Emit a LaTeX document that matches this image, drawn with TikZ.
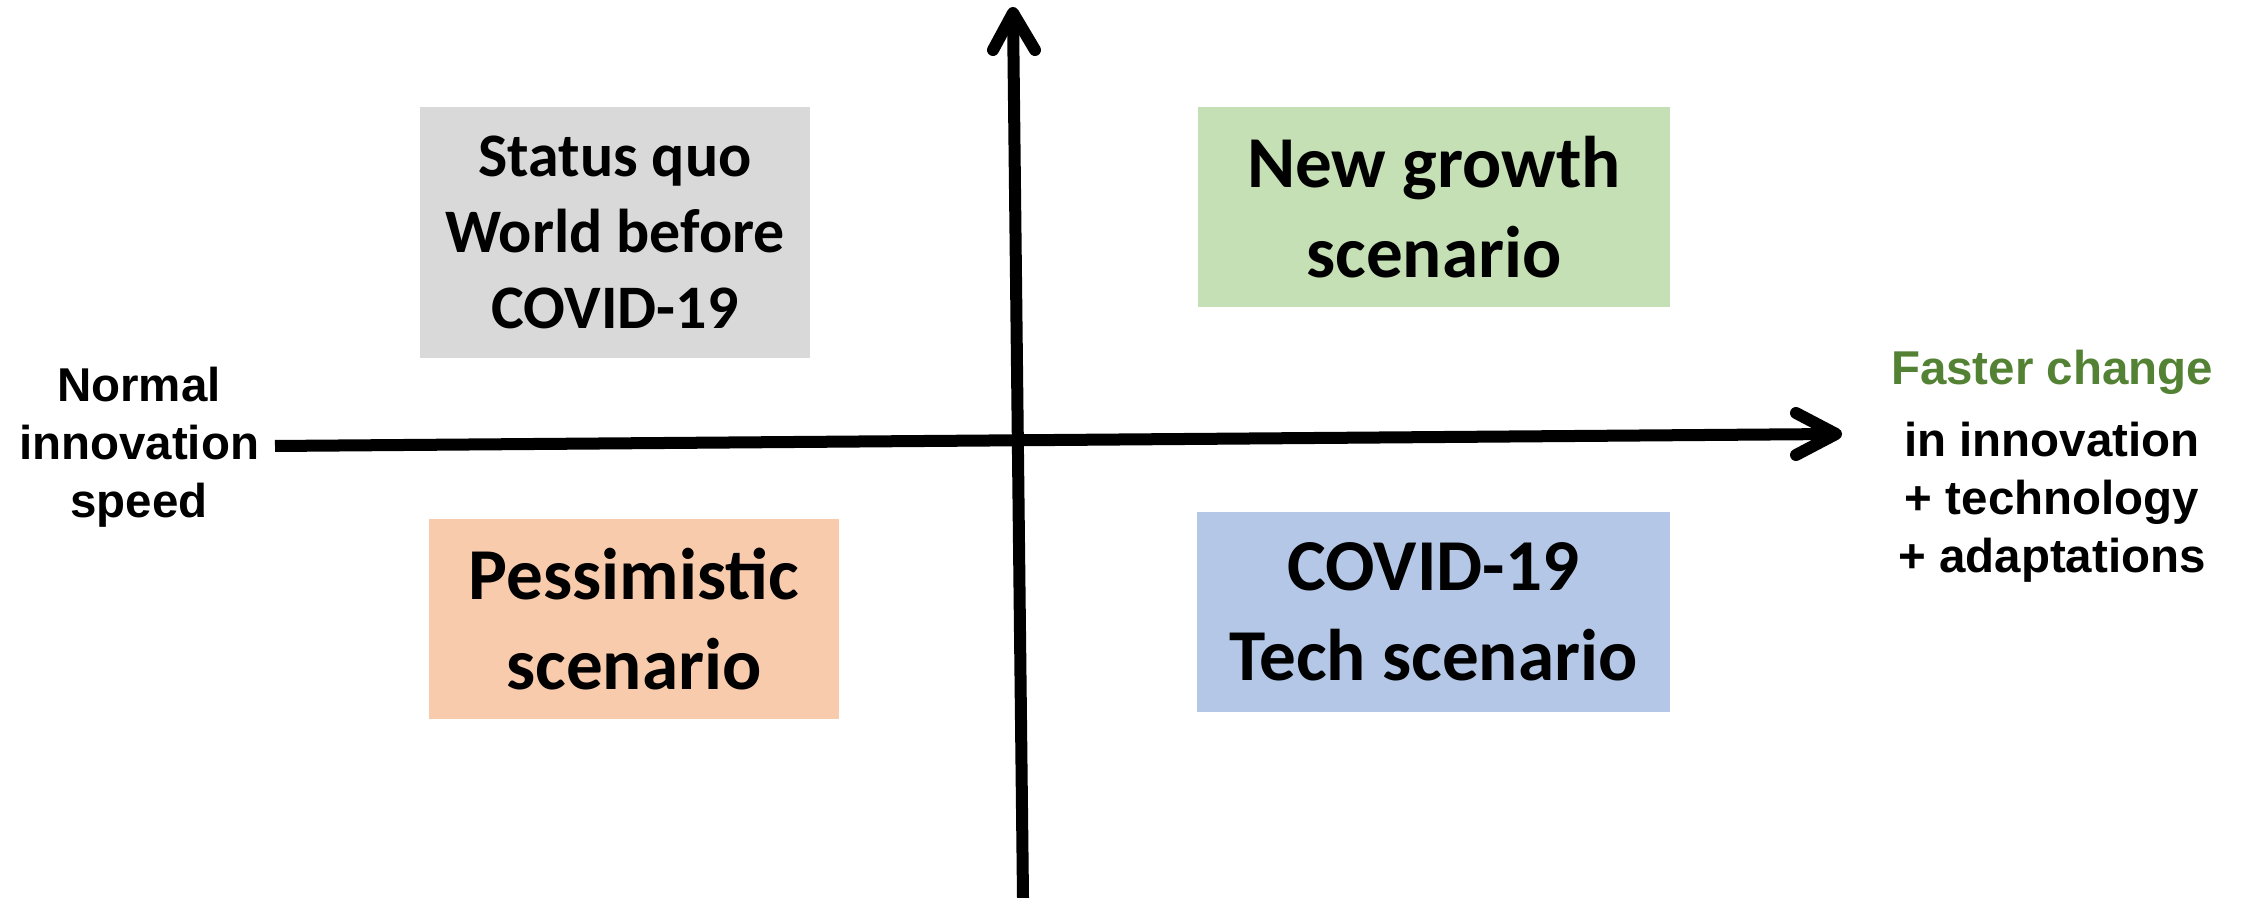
\documentclass[tikz,border=0pt]{standalone}
\usepackage{fontspec}
\setmainfont{Carlito}
\newfontfamily\arialfont{Liberation Sans}
\definecolor{boxgrey}{HTML}{D9D9D9}
\definecolor{boxgreen}{HTML}{C5E0B4}
\definecolor{boxorange}{HTML}{F8CBAD}
\definecolor{boxblue}{HTML}{B4C7E7}
\definecolor{textgreen}{HTML}{548235}
\begin{document}
\begin{tikzpicture}[x=0.01cm,y=-0.01cm,
  quad/.style={fill=#1, draw=none, inner sep=0pt, align=center, font=\bfseries},
  smallquad/.style={font=\fontsize{17.6pt}{21.6pt}\selectfont\bfseries},
  bigquad/.style={font=\fontsize{20.8pt}{25.6pt}\selectfont\bfseries},
  axislabel/.style={align=center, inner sep=0pt, font=\arialfont\fontsize{13.5pt}{16.5pt}\selectfont\bfseries},
  axisline/.style={line width=0.12cm, line cap=butt},
  axishead/.style={line width=0.12cm, line cap=round, line join=round}]
\useasboundingbox (0,0) rectangle (2242,898);

% quadrant boxes
\node[quad=boxgrey, smallquad, minimum width=3.9cm, minimum height=2.51cm] (sq) at (615,232.5)
  {Status quo\\World before\\COVID-19};
\node[quad=boxgreen, bigquad, minimum width=4.72cm, minimum height=2.0cm] (ng) at (1434,207)
  {New growth\\scenario};
\node[quad=boxorange, bigquad, minimum width=4.1cm, minimum height=2.0cm] (pe) at (634,619)
  {Pessimistic\\scenario};
\node[quad=boxblue, bigquad, minimum width=4.73cm, minimum height=2.0cm] (ct) at (1433.5,612)
  {COVID-19\\Tech scenario};

% axes
\coordinate (hstart) at (275,446);
\coordinate (htip) at (1836,434);
\coordinate (harmA) at (1796,413);
\coordinate (harmB) at (1796,455);
\coordinate (vstart) at (1023,898);
\coordinate (vtip) at (1013,13);
\coordinate (varmA) at (993,50);
\coordinate (varmB) at (1035,50);

\draw[axisline] (hstart) -- (htip);
\draw[axishead] (harmA) -- (htip) -- (harmB);
\draw[axisline] (vstart) -- (vtip);
\draw[axishead] (varmA) -- (vtip) -- (varmB);

% axis labels
\node[axislabel] (left) at (139,447) {Normal\\innovation\\speed};
\node[axislabel, text=textgreen] (faster) at (2052,372) {Faster change};
\node[axislabel] (right) at (2052,502) {in innovation\\+ technology\\+ adaptations};
\end{tikzpicture}
\end{document}
